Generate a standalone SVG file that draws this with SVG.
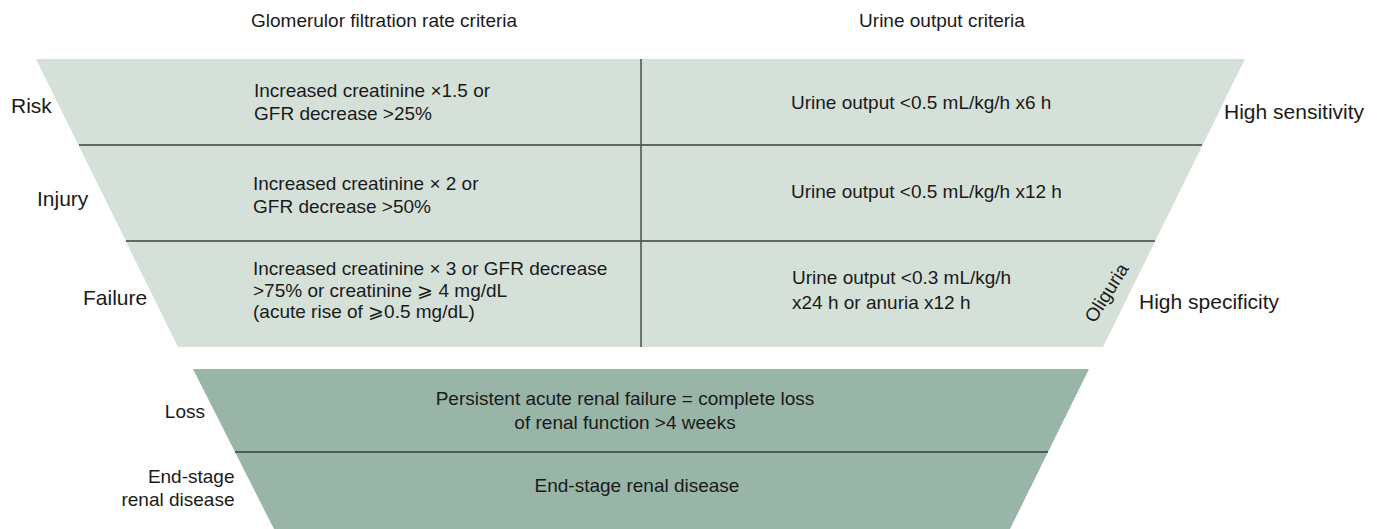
<svg xmlns="http://www.w3.org/2000/svg" width="1380" height="529" viewBox="0 0 1380 529">
<style>
text{font-family:"Liberation Sans",Arial,Helvetica,sans-serif;fill:#1a1a1a;font-size:19px}
.lab{font-size:21px}
.sm{font-size:19px}
.mid{text-anchor:middle}
.end{text-anchor:end}
.top{fill:#d5e0d9}
.bot{fill:#98b5a7}
.div{stroke:#3a3f3c;stroke-width:1.6;fill:none}
</style>
<g id="headers">
<text x="251" y="26.5">Glomerulor filtration rate criteria</text>
<text x="942" y="26.5" class="mid">Urine output criteria</text>
</g>
<g id="shapes">
<polygon class="top" points="36,59 1245,59 1103,347 178,347"/>
<polygon class="bot" points="193,369 1089,369 1010,529 274,529"/>
</g>
<g id="dividers">
<line class="div" x1="79" y1="145" x2="1202" y2="145"/>
<line class="div" x1="126" y1="241" x2="1155" y2="241"/>
<line class="div" x1="641" y1="59" x2="641" y2="347" style="stroke:#555"/>
<line class="div" x1="235" y1="452" x2="1048" y2="452"/>
</g>
<g id="risk">
<text x="11" y="113" class="lab">Risk</text>
<text x="254" y="97">Increased creatinine ×1.5 or</text>
<text x="254" y="120">GFR decrease &gt;25%</text>
<text x="791" y="109">Urine output &lt;0.5 mL/kg/h x6 h</text>
</g>
<g id="injury">
<text x="37" y="206" class="lab">Injury</text>
<text x="253" y="190">Increased creatinine × 2 or</text>
<text x="253" y="212.5">GFR decrease &gt;50%</text>
<text x="791" y="197.5">Urine output &lt;0.5 mL/kg/h x12 h</text>
</g>
<g id="failure">
<text x="83" y="305" class="lab">Failure</text>
<text x="253" y="275">Increased creatinine × 3 or GFR decrease</text>
<text x="253" y="296.5">&gt;75% or creatinine ⩾ 4 mg/dL</text>
<text x="253" y="318">(acute rise of ⩾0.5 mg/dL)</text>
<text x="792" y="284">Urine output &lt;0.3 mL/kg/h</text>
<text x="792" y="309">x24 h or anuria x12 h</text>
<text x="1107" y="293" class="mid" transform="rotate(-58 1107 293)" dy="6">Oliguria</text>
</g>
<g id="sensitivity">
<text x="1224" y="119" class="lab">High sensitivity</text>
<text x="1139" y="309" class="lab">High specificity</text>
</g>
<g id="loss">
<text x="205" y="417.5" class="end">Loss</text>
<text x="625" y="405" class="mid">Persistent acute renal failure = complete loss</text>
<text x="625" y="428.5" class="mid">of renal function &gt;4 weeks</text>
</g>
<g id="esrd">
<text x="234.5" y="483" class="end">End-stage</text>
<text x="234.5" y="506" class="end">renal disease</text>
<text x="637" y="491.5" class="mid">End-stage renal disease</text>
</g>
</svg>
